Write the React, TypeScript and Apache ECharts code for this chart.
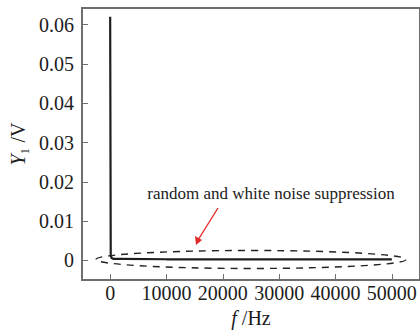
import React, { useEffect, useRef } from "react";
import * as echarts from "echarts";

const freqHz = [0, 100, 250, 600, 2000, 10000, 20000, 30000, 40000, 50000];
const amplitudeV = [0.062, 0.0013, 0.0006, 0.0004, 0.0004, 0.0003, 0.0003, 0.0003, 0.0003, 0.0003];
const xTicks = [0, 10000, 20000, 30000, 40000, 50000];
const yTicks = [0, 0.01, 0.02, 0.03, 0.04, 0.05, 0.06];
const annotation = "random and white noise suppression";

const FONT = "Liberation Serif";

export default function App() {
  const ref = useRef<HTMLDivElement>(null);
  useEffect(() => {
    document.body.style.margin = "0";
    const chart = echarts.init(ref.current!, null, { renderer: "svg" });
    const axisCol = "#6e6e6e";
    chart.setOption({
      animation: false,
      backgroundColor: "#ffffff",
      textStyle: { fontFamily: FONT },
      grid: {
        left: 81,
        top: 8,
        width: 342,
        height: 277,
        show: true,
        borderColor: axisCol,
        borderWidth: 2,
        containLabel: false,
      },
      xAxis: {
        type: "value",
        min: -5000,
        max: 55000,
        splitLine: { show: false },
        axisLine: { show: true, onZero: false, lineStyle: { color: axisCol, width: 2 } },
        axisTick: { show: true, inside: true, length: 6, customValues: xTicks, lineStyle: { color: axisCol, width: 1 } },
        axisLabel: {
          customValues: xTicks,
          margin: 3,
          color: "#1c1c1c",
          fontFamily: FONT,
          fontSize: 20,
          formatter: (v: number) => String(v),
        },
        name: "{i|f} /Hz",
        nameLocation: "middle",
        nameGap: 27,
        nameTextStyle: {
          color: "#1c1c1c",
          fontFamily: FONT,
          fontSize: 20,
          rich: { i: { fontStyle: "italic", fontFamily: FONT, fontSize: 20, color: "#1c1c1c" } },
        },
      },
      yAxis: {
        type: "value",
        min: -0.005,
        max: 0.06425,
        splitLine: { show: false },
        axisLine: { show: true, onZero: false, lineStyle: { color: axisCol, width: 2 } },
        axisTick: { show: true, inside: true, length: 6, customValues: yTicks, lineStyle: { color: axisCol, width: 1 } },
        axisLabel: {
          customValues: yTicks,
          margin: 8,
          color: "#1c1c1c",
          fontFamily: FONT,
          fontSize: 20,
          formatter: (v: number) => (v === 0 ? "0" : v.toFixed(2)),
        },
        name: "{i|Y}₁ /V",
        nameLocation: "middle",
        nameGap: 54,
        nameRotate: 90,
        nameTextStyle: {
          color: "#1c1c1c",
          fontFamily: FONT,
          fontSize: 20,
          rich: { i: { fontStyle: "italic", fontFamily: FONT, fontSize: 20, color: "#1c1c1c" } },
        },
      },
      series: [
        {
          type: "line",
          data: freqHz.map((f, i) => [f, amplitudeV[i]]),
          showSymbol: false,
          smooth: false,
          lineStyle: { color: "#1e1e1e", width: 2.2 },
        },
      ],
    });

    const c = chart.convertToPixel({ gridIndex: 0 }, [25000, 0.00025]) as number[];
    const cx = c[0];
    const cy = c[1];
    chart.setOption({
      graphic: [
        {
          type: "ellipse",
          shape: { cx: cx, cy: cy, rx: 155, ry: 9 },
          style: { fill: "none", stroke: "#222", lineWidth: 1.4, lineDash: [7, 6] },
          z: 100,
        },
        {
          type: "line",
          shape: { x1: 218, y1: 208, x2: 198, y2: 240 },
          style: { stroke: "#e02a2a", lineWidth: 1.4 },
          z: 100,
        },
        {
          type: "polygon",
          shape: { points: [[196, 245], [195, 236], [202, 240]] },
          style: { fill: "#e02a2a" },
          z: 100,
        },
        {
          type: "text",
          x: 271,
          y: 193,
          style: {
            text: annotation,
            fill: "#222",
            fontFamily: FONT,
            fontSize: 17,
            align: "center",
            verticalAlign: "middle",
          },
          z: 100,
        },
      ],
    });
    return () => chart.dispose();
  }, []);
  return <div ref={ref} style={{ width: 420, height: 333 }} />;
}
